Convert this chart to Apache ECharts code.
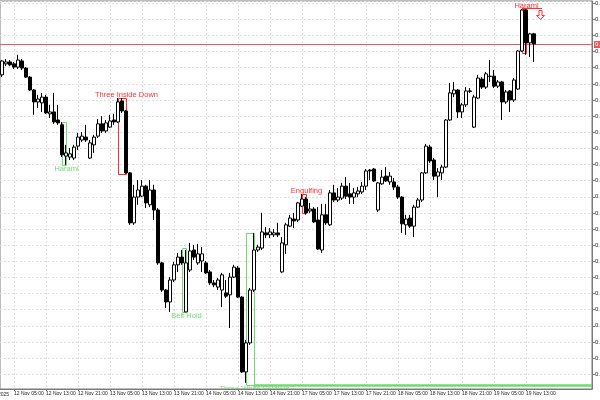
<!DOCTYPE html>
<html><head><meta charset="utf-8">
<script src="https://cdn.jsdelivr.net/npm/echarts@6/dist/echarts.min.js"></script>
<style>html,body{margin:0;padding:0;background:#fff}#c{width:600px;height:400px}</style>
</head><body><div id="c"></div>
<script>
// ---------- data ----------
const sessionDays = ['12 Nov','13 Nov','14 Nov','17 Nov','18 Nov','19 Nov','20 Nov'];
const firstHour = 2;          // first bar: 12 Nov 02:00
const slotCount = 148;        // bars + empty right shift
const firstDateLabel = '12 Nov 2025';
const tickLabels = ['12 Nov 05:00','12 Nov 13:00','12 Nov 21:00','13 Nov 05:00','13 Nov 13:00','13 Nov 21:00',
  '14 Nov 05:00','14 Nov 13:00','14 Nov 21:00','17 Nov 05:00','17 Nov 13:00','17 Nov 21:00',
  '18 Nov 05:00','18 Nov 13:00','18 Nov 21:00','19 Nov 05:00','19 Nov 13:00'];
const yMin = 0.644041, yMax = 0.656069;

const opens = [0.65378,0.65412,0.65418,0.65412,0.65402,0.65421,0.65399,0.65371,0.65331,0.65294,
0.65291,0.65309,0.65257,0.65263,0.65238,0.65223,0.65126,0.65123,0.65120,0.65157,
0.65176,0.65185,0.65120,0.65161,0.65188,0.65226,0.65204,0.65216,0.65238,0.65232,
0.65297,0.65266,0.65074,0.64919,0.64999,0.65002,0.65033,0.64975,0.65021,0.64959,
0.64795,0.64711,0.64674,0.64742,0.64789,0.64813,0.64643,0.64773,0.64835,0.64795,
0.64801,0.64795,0.64767,0.64733,0.64720,0.64711,0.64702,0.64696,0.64751,0.64779,
0.64689,0.64457,0.64547,0.64711,0.64835,0.64841,0.64888,0.64882,0.64882,0.64888,
0.64767,0.64851,0.64909,0.64931,0.64928,0.64971,0.64993,0.64956,0.64962,0.64928,
0.64835,0.64944,0.64913,0.65012,0.64990,0.64996,0.65033,0.65009,0.64999,0.65009,
0.65015,0.65033,0.65083,0.65086,0.64959,0.65040,0.65064,0.65046,0.65046,0.65030,
0.64999,0.64913,0.64934,0.64909,0.64968,0.64990,0.65074,0.65154,0.65114,0.65064,
0.65074,0.65092,0.65238,0.65319,0.65331,0.65263,0.65285,0.65328,0.65216,0.65306,
0.65365,0.65340,0.65374,0.65374,0.65343,0.65356,0.65294,0.65328,0.65300,0.65334,
0.65452,0.65579,0.65477,0.65505];
const closes = [0.65421,0.65418,0.65409,0.65402,0.65424,0.65399,0.65371,0.65331,0.65294,0.65303,
0.65309,0.65260,0.65263,0.65232,0.65229,0.65130,0.65136,0.65133,0.65154,0.65185,
0.65188,0.65176,0.65167,0.65185,0.65226,0.65204,0.65229,0.65235,0.65232,0.65294,
0.65266,0.65074,0.64919,0.64999,0.65021,0.65033,0.64981,0.65021,0.64959,0.64795,
0.64711,0.64674,0.64742,0.64789,0.64813,0.64795,0.64795,0.64832,0.64813,0.64823,
0.64823,0.64764,0.64733,0.64727,0.64742,0.64758,0.64692,0.64751,0.64782,0.64689,
0.64457,0.64547,0.64711,0.64835,0.64844,0.64891,0.64882,0.64891,0.64888,0.64882,
0.64857,0.64913,0.64934,0.64925,0.64981,0.64993,0.64950,0.64962,0.64922,0.64838,
0.64944,0.64919,0.65012,0.64990,0.64999,0.65033,0.65002,0.64999,0.65012,0.65018,
0.65033,0.65080,0.65080,0.65049,0.65043,0.65061,0.65049,0.65064,0.65030,0.64999,
0.64916,0.64931,0.64909,0.64968,0.64990,0.65074,0.65157,0.65111,0.65064,0.65077,
0.65092,0.65238,0.65322,0.65331,0.65263,0.65285,0.65328,0.65327,0.65309,0.65368,
0.65340,0.65381,0.65373,0.65343,0.65356,0.65294,0.65325,0.65300,0.65362,0.65452,
0.65579,0.65477,0.65505,0.65474];
const lows = [0.65371,0.65405,0.65405,0.65396,0.65396,0.65393,0.65368,0.65328,0.65254,0.65275,
0.65263,0.65257,0.65244,0.65226,0.65223,0.65123,0.65099,0.65114,0.65114,0.65145,
0.65170,0.65170,0.65117,0.65136,0.65182,0.65198,0.65198,0.65213,0.65223,0.65229,
0.65260,0.65071,0.64913,0.64913,0.64975,0.64999,0.64965,0.64968,0.64928,0.64789,
0.64705,0.64655,0.64643,0.64736,0.64767,0.64789,0.64643,0.64767,0.64804,0.64789,
0.64767,0.64761,0.64727,0.64720,0.64711,0.64658,0.64686,0.64593,0.64748,0.64686,
0.64454,0.64423,0.64541,0.64705,0.64829,0.64835,0.64872,0.64872,0.64875,0.64875,
0.64764,0.64823,0.64906,0.64903,0.64922,0.64968,0.64944,0.64950,0.64919,0.64835,
0.64826,0.64913,0.64909,0.64984,0.64984,0.64990,0.64993,0.64978,0.64978,0.64999,
0.65009,0.65021,0.65052,0.65046,0.64953,0.65037,0.65046,0.65037,0.65021,0.64993,
0.64888,0.64882,0.64903,0.64875,0.64965,0.64984,0.65071,0.65105,0.65052,0.64999,
0.65052,0.65089,0.65235,0.65309,0.65244,0.65244,0.65278,0.65322,0.65213,0.65303,
0.65334,0.65334,0.65356,0.65337,0.65337,0.65238,0.65288,0.65263,0.65294,0.65331,
0.65449,0.65440,0.65433,0.65418];
const highs = [0.65424,0.65427,0.65424,0.65418,0.65440,0.65427,0.65402,0.65374,0.65334,0.65316,
0.65322,0.65316,0.65285,0.65322,0.65285,0.65232,0.65161,0.65151,0.65161,0.65198,
0.65201,0.65223,0.65176,0.65192,0.65241,0.65250,0.65238,0.65254,0.65257,0.65306,
0.65306,0.65269,0.65077,0.65037,0.65052,0.65052,0.65037,0.65052,0.65037,0.64965,
0.64798,0.64714,0.64751,0.64798,0.64826,0.64835,0.64835,0.64857,0.64851,0.64854,
0.64844,0.64801,0.64773,0.64742,0.64748,0.64764,0.64742,0.64764,0.64789,0.64785,
0.64692,0.64556,0.64717,0.64888,0.64851,0.64950,0.64906,0.64903,0.64900,0.64919,
0.64875,0.64919,0.64944,0.64950,0.64984,0.65009,0.64999,0.64981,0.64968,0.64968,
0.64978,0.64978,0.65021,0.65037,0.65027,0.65043,0.65061,0.65043,0.65027,0.65030,
0.65046,0.65086,0.65086,0.65089,0.65046,0.65083,0.65092,0.65077,0.65058,0.65037,
0.65002,0.64944,0.64944,0.64975,0.64996,0.65077,0.65164,0.65161,0.65120,0.65089,
0.65099,0.65241,0.65353,0.65356,0.65334,0.65291,0.65340,0.65337,0.65316,0.65378,
0.65371,0.65387,0.65424,0.65393,0.65362,0.65359,0.65331,0.65331,0.65368,0.65455,
0.65582,0.65582,0.65508,0.65508];

// candlestick pattern marks
const patternNames = ['Harami','Three Inside Down','Belt Hold','Three White Soldiers','Engulfing','Harami'];
const patternKind  = ['bull','bear','bull','bull','bear','bear'];
const patternStart = [15, 29, 45, 61, 75, 130];
const patternEnd   = [16, 31, 46, 63, 76, 131];
const patternHigh  = [0.65232, 0.65306, 0.64840, 0.64888, 0.65009, 0.65582];
const patternLow   = [0.65099, 0.65071, 0.64643, 0.64417, 0.64950, 0.65446];
// extra level lines and signal arrow
const levelKind  = ['bull','bear'];
const levelFrom  = [63, 130];
const levelTo    = [147, 135];
const levelPrice = [0.64417, 0.65585];
const arrowIndex = 135, arrowPrice = 0.65579;
const bidPrice = closes[closes.length - 1];

// ---------- styles ----------
const GREEN = '#70da70', RED = '#ff3030', BID = '#e35c5c';
const GRID_C = '#dedede', AXIS_C = '#7a7a7a', TXT = '#222';
const AXIS_FONT = "'Liberation Sans Narrow','Liberation Sans',Arial,sans-serif";
const NOTE_FONT = "7.5px 'Liberation Sans',Arial,sans-serif";

const categories = [];
for (let d = 0; d < sessionDays.length && categories.length < slotCount; d++) {
  for (let h = (d === 0 ? firstHour : 0); h < 24 && categories.length < slotCount; h++) {
    categories.push(sessionDays[d] + ' ' + (h < 10 ? '0' : '') + h + ':00');
  }
}
const tickSet = new Set(tickLabels);
const showTick = (idx, val) => tickSet.has(val !== undefined ? val : categories[idx]);

const candleData = opens.map((o, i) => [o, closes[i], lows[i], highs[i]]);
const patternData = patternStart.map((s, i) => [s, patternEnd[i], patternHigh[i], patternLow[i]]);
const levelData = levelFrom.map((s, i) => [s, levelTo[i], levelPrice[i]]);

const chart = echarts.init(document.getElementById('c'), null, {renderer: 'canvas'});
chart.setOption({
  animation: false,
  backgroundColor: '#fff',
  grid: {left: 0, right: 8, top: 1, bottom: 11, show: true, borderColor: AXIS_C, borderWidth: 1,
         backgroundColor: '#fff', containLabel: false, outerBoundsMode: 'none'},
  xAxis: {
    type: 'category', data: categories, boundaryGap: true,
    axisLine: {show: true, lineStyle: {color: AXIS_C, width: 1}},
    axisTick: {show: true, interval: showTick, alignWithLabel: true, length: 2, lineStyle: {color: AXIS_C}},
    axisLabel: {show: true, interval: showTick, align: 'left', margin: 2, fontSize: 5,
                fontFamily: AXIS_FONT, color: TXT, hideOverlap: false,
                showMinLabel: true, showMaxLabel: true},
    splitLine: {show: true, interval: showTick, alignWithLabel: true,
                lineStyle: {color: GRID_C, type: [2, 2], width: 1}}
  },
  yAxis: {
    type: 'value', position: 'right', min: yMin, max: yMax, splitNumber: 24, scale: true,
    axisLine: {show: true, lineStyle: {color: AXIS_C, width: 1}},
    axisTick: {show: true, length: 3, inside: false, lineStyle: {color: AXIS_C}},
    axisLabel: {show: true, margin: 3, fontSize: 6, fontFamily: AXIS_FONT, color: TXT,
                showMinLabel: false, showMaxLabel: false, formatter: v => v.toFixed(5)},
    splitLine: {show: true, lineStyle: {color: GRID_C, type: [2, 2], width: 1}}
  },
  graphic: [{type: 'text', x: 9, y: 394.5, silent: true,
             style: {text: firstDateLabel, align: 'right', verticalAlign: 'middle',
                     font: "5px " + AXIS_FONT, fill: TXT}}],
  series: [
    {
      type: 'custom', name: 'bid', z: 1, clip: false,
      data: [[0, bidPrice]], encode: {x: 0, y: 1},
      renderItem: (params, api) => {
        const p = api.coord([api.value(0), api.value(1)]);
        const cs = params.coordSys;
        const y = Math.round(p[1]) + 0.5;
        return {type: 'group', children: [
          {type: 'line', shape: {x1: cs.x, y1: y, x2: cs.x + cs.width, y2: y},
           style: {stroke: BID, lineWidth: 1}},
          {type: 'text', x: cs.x + cs.width + 2, y: y, z2: 10,
           style: {text: api.value(1).toFixed(5), fill: '#fff', backgroundColor: BID,
                   font: "6px " + AXIS_FONT, align: 'left', verticalAlign: 'middle', padding: [1, 1, 0, 1]}}
        ]};
      }
    },
    {
      type: 'custom', name: 'patterns', z: 1, clip: true,
      data: patternData, encode: {x: [0, 1], y: [2, 3]},
      renderItem: (params, api) => {
        const i = params.dataIndex;
        const bull = patternKind[i] === 'bull';
        const col = bull ? GREEN : RED;
        const a = api.coord([api.value(0), api.value(2)]);
        const b = api.coord([api.value(1), api.value(3)]);
        const x0 = Math.round(a[0]) + 0.5, y0 = Math.round(a[1]) + 0.5;
        const x1 = Math.round(b[0]) + 0.5, y1 = Math.round(b[1]) + 0.5;
        return {type: 'group', children: [
          {type: 'rect', shape: {x: x0, y: y0, width: x1 - x0, height: y1 - y0},
           style: {fill: null, stroke: col, lineWidth: 1}},
          {type: 'text', x: b[0] + 0.5, y: bull ? y1 - 0.5 : y0 + 0.5,
           style: {text: patternNames[i], fill: col, font: NOTE_FONT, align: 'center',
                   verticalAlign: bull ? 'top' : 'bottom'}}
        ]};
      }
    },
    {
      type: 'custom', name: 'levels', z: 1, clip: true,
      data: levelData, encode: {x: [0, 1], y: 2},
      renderItem: (params, api) => {
        const i = params.dataIndex;
        const bull = levelKind[i] === 'bull';
        const a = api.coord([api.value(0), api.value(2)]);
        const b = api.coord([api.value(1), api.value(2)]);
        const cs = params.coordSys;
        const xEnd = api.value(1) >= slotCount - 1 ? cs.x + cs.width : b[0];
        const y = Math.round(a[1]) + 0.5;
        return {type: 'line', shape: {x1: a[0], y1: y, x2: xEnd, y2: y},
                style: {stroke: bull ? GREEN : RED, lineWidth: bull ? 2.5 : 1}};
      }
    },
    {
      type: 'custom', name: 'signal', z: 3, clip: false,
      data: [[arrowIndex, arrowPrice]], encode: {x: 0, y: 1},
      renderItem: (params, api) => {
        const p = api.coord([api.value(0), api.value(1)]);
        const x = Math.round(p[0]) - 1.5, y = Math.round(p[1]) + 0.5;
        return {type: 'polygon',
                shape: {points: [[x - 1.5, y], [x + 1.5, y], [x + 1.5, y + 5], [x + 4, y + 5],
                                 [x, y + 9], [x - 4, y + 5], [x - 1.5, y + 5]]},
                style: {fill: '#fff', stroke: RED, lineWidth: 1}};
      }
    },
    {
      type: 'candlestick', name: 'price', z: 2, barWidth: 3,
      data: candleData,
      itemStyle: {color: '#ffffff', color0: '#000000', borderColor: '#000000',
                  borderColor0: '#000000', borderColorDoji: '#000000', borderWidth: 1}
    }
  ]
});
</script></body></html>
